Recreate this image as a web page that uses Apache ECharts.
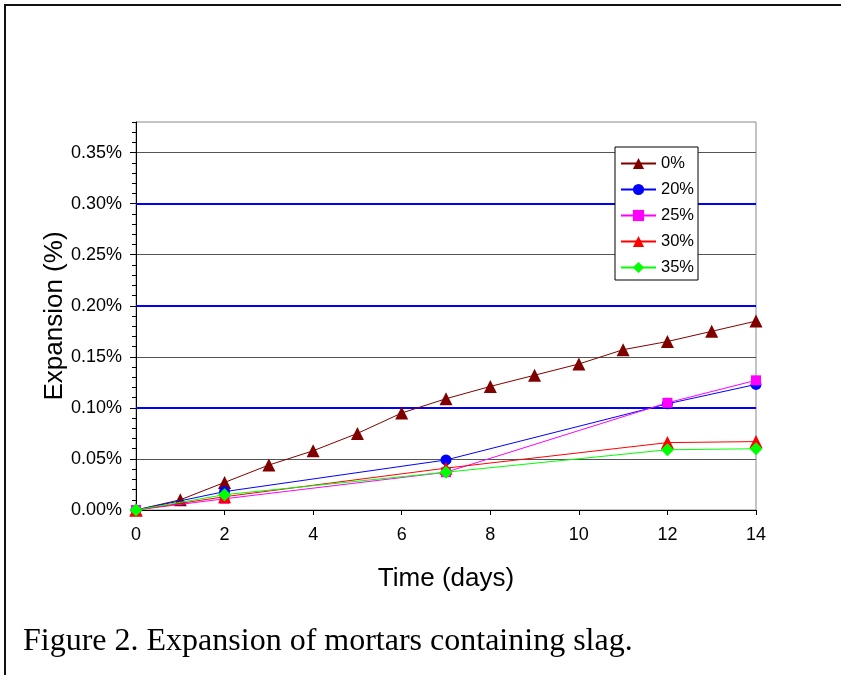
<!DOCTYPE html>
<html>
<head>
<meta charset="utf-8">
<script src="https://cdn.jsdelivr.net/npm/echarts@6/dist/echarts.min.js"></script>
<style>
  html, body { margin: 0; padding: 0; background: #fff; }
  #chart { width: 841px; height: 675px; }
</style>
</head>
<body>
<div id="chart"></div>
<script>
// ---- data ----
const seriesNames = ['0%', '20%', '25%', '30%', '35%'];
const daysControl = [0, 1, 2, 3, 4, 5, 6, 7, 8, 9, 10, 11, 12, 13, 14];
const daysSlag = [0, 2, 7, 12, 14];
const slag0 = [0, 0.010, 0.027, 0.044, 0.058, 0.075, 0.095, 0.109, 0.121, 0.132, 0.143, 0.157, 0.165, 0.175, 0.185];
const slag20 = [0, 0.018, 0.049, 0.104, 0.123];
const slag25 = [0, 0.011, 0.037, 0.105, 0.127];
const slag30 = [0, 0.013, 0.041, 0.066, 0.067];
const slag35 = [0, 0.015, 0.037, 0.059, 0.060];
const yTickValues = [0, 0.05, 0.10, 0.15, 0.20, 0.25, 0.30, 0.35];
const limitLines = [0.10, 0.20, 0.30];
const xTickLabels = [0, 2, 4, 6, 8, 10, 12, 14];

const FONT = 'Liberation Sans, Arial, sans-serif';

function pairs(xs, ys) { return xs.map((x, i) => [x, ys[i]]); }

const styles = [
  { color: '#800000', symbol: 'triangle', size: 13 },
  { color: '#0000FF', symbol: 'circle', size: 11 },
  { color: '#FF00FF', symbol: 'rect', size: 10 },
  { color: '#FF0000', symbol: 'triangle', size: 13 },
  { color: '#00FF00', symbol: 'diamond', size: 13 }
];
const dataSets = [
  pairs(daysControl, slag0),
  pairs(daysSlag, slag20),
  pairs(daysSlag, slag25),
  pairs(daysSlag, slag30),
  pairs(daysSlag, slag35)
];

const series = seriesNames.map((name, i) => ({
  name: name,
  type: 'line',
  data: dataSets[i],
  yAxisIndex: 0,
  symbol: styles[i].symbol,
  symbolSize: styles[i].size,
  showAllSymbol: true,
  animation: false,
  z: 3 + i,
  lineStyle: { color: styles[i].color, width: 1 },
  itemStyle: { color: styles[i].color, borderWidth: 0 }
}));

series.push({
  name: 'limits',
  type: 'line',
  data: [],
  silent: true,
  animation: false,
  z: 1,
  markLine: {
    silent: true,
    symbol: 'none',
    z: 1,
    animation: false,
    label: { show: false },
    lineStyle: { color: '#0000FF', width: 2, type: 'solid' },
    emphasis: { disabled: true },
    data: limitLines.map(v => ({ yAxis: v }))
  }
});

const chart = echarts.init(document.getElementById('chart'), null, { renderer: 'canvas' });
chart.setOption({
  backgroundColor: '#ffffff',
  animation: false,
  textStyle: { fontFamily: FONT, color: '#000' },
  title: {
    text: 'Figure 2. Expansion of mortars containing slag.',
    left: 23,
    top: 626,
    padding: 0,
    textStyle: { fontFamily: 'Liberation Serif, Times New Roman, serif', fontSize: 32, fontWeight: 'normal', color: '#000' }
  },
  legend: {
    orient: 'vertical',
    left: 615,
    top: 147,
    padding: [8, 4, 4, 5],
    itemGap: 9,
    itemWidth: 35,
    itemHeight: 14,
    backgroundColor: '#fff',
    borderColor: '#000',
    borderWidth: 1,
    borderRadius: 0,
    data: seriesNames,
    textStyle: { fontFamily: FONT, fontSize: 16.5, lineHeight: 16, color: '#000' }
  },
  grid: {
    left: 136,
    right: 85,
    top: 122,
    bottom: 165,
    show: true,
    borderColor: '#888',
    borderWidth: 1,
    backgroundColor: 'transparent',
    containLabel: false,
    outerBoundsMode: 'none'
  },
  xAxis: {
    type: 'value',
    min: 0,
    max: 14,
    interval: 2,
    name: 'Time (days)',
    nameLocation: 'middle',
    nameGap: 56,
    nameMoveOverlap: false,
    nameTextStyle: { fontFamily: FONT, fontSize: 26, color: '#000' },
    axisLine: { show: true, onZero: false, lineStyle: { color: '#000', width: 1 } },
    axisTick: { show: true, inside: false, length: 5, lineStyle: { color: '#000' } },
    axisLabel: {
      margin: 16, fontSize: 18, color: '#000', fontFamily: FONT,
      customValues: xTickLabels
    },
    splitLine: { show: false }
  },
  yAxis: [
    {
      type: 'value',
      min: 0,
      max: 0.38,
      interval: 0.05,
      position: 'left',
      name: 'Expansion (%)',
      nameLocation: 'middle',
      nameGap: 68,
      nameMoveOverlap: false,
      nameTextStyle: { fontFamily: FONT, fontSize: 26, color: '#000' },
      axisLine: { show: true, onZero: false, lineStyle: { color: '#000', width: 1 } },
      axisTick: { show: true, inside: false, length: 6, lineStyle: { color: '#000' }, customValues: yTickValues },
      axisLabel: {
        margin: 14, fontSize: 18, color: '#000', fontFamily: FONT,
        customValues: yTickValues,
        formatter: v => v.toFixed(2) + '%'
      },
      splitLine: { show: true, lineStyle: { color: '#555', width: 1 } }
    },
    {
      type: 'value',
      min: 0,
      max: 0.38,
      interval: 0.01,
      position: 'left',
      offset: 0,
      axisLine: { show: false },
      axisTick: { show: true, inside: false, length: 4, lineStyle: { color: '#000' } },
      axisLabel: { show: false },
      splitLine: { show: false }
    }
  ],
  graphic: [
    { type: 'line', shape: { x1: 4, y1: 5, x2: 841, y2: 5 }, style: { stroke: '#111', lineWidth: 2 }, silent: true },
    { type: 'line', shape: { x1: 5, y1: 4, x2: 5, y2: 675 }, style: { stroke: '#111', lineWidth: 2 }, silent: true }
  ],
  series: series
});
</script>
</body>
</html>
